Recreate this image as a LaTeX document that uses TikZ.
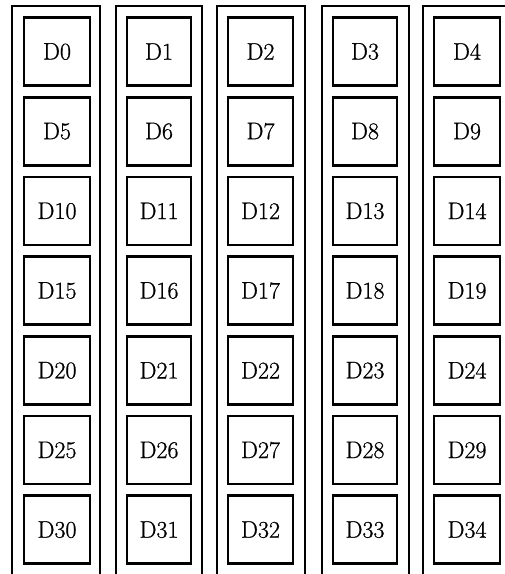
\documentclass[tikz,border=0pt]{standalone}
\usepackage{fontspec}
\setmainfont{Latin Modern Roman}
\newfontfamily\cellfont{Latin Modern Roman}[FakeBold=0.8]
\begin{document}
\begin{tikzpicture}[x=1pt,y=-1pt,
  outerline/.style={line width=2.6pt},
  cellbox/.style={draw,line width=2.6pt,minimum width=65pt,minimum height=68pt,inner sep=0pt,font=\cellfont\fontsize{24}{28}\selectfont}]
\useasboundingbox (0,0) rectangle (505,574);
\begin{scope}
\clip (0,0) rectangle (505,574);
\foreach \L/\R [count=\c from 0] in {12/100,116/202,217/305,322/409,423/512}{
  \draw[outerline] (\L,580) -- (\L,6) -- (\R,6) -- (\R,580);
}
\end{scope}
\foreach \xl/\xr [count=\c from 0] in {24/90,127/191,228/293,333/397,434/500}{
  \foreach \r in {0,...,6}{
    \pgfmathtruncatemacro{\idx}{\r*5+\c}
    \pgfmathsetmacro{\yc}{17+34.5+\r*79.7}
    \node[cellbox,minimum width={\xr-\xl}] (d\idx) at ({(\xl+\xr)/2},\yc) {D\idx};
  }
}
\end{tikzpicture}
\end{document}
